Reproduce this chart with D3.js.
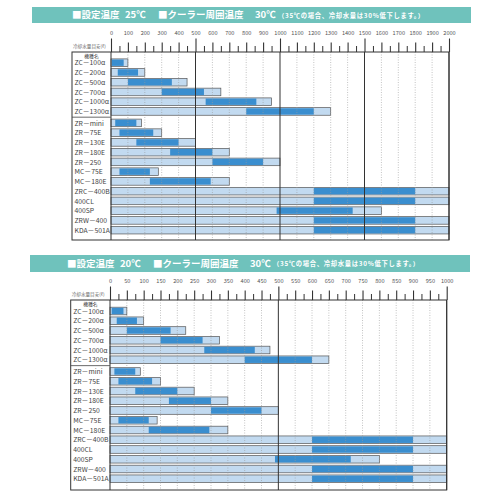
<!DOCTYPE html>
<html>
<head>
<meta charset="utf-8">
<script src="https://cdn.jsdelivr.net/npm/d3@7"></script>
<style>
  body { margin: 0; background: #fff; }
  text { font-family: "Noto Sans CJK JP", "Noto Sans", sans-serif; }
</style>
</head>
<body>
<svg width="498" height="498"></svg>
<script>
const models = ["ZC－100α", "ZC－200α", "ZC－500α", "ZC－700α", "ZC－1000α", "ZC－1300α",
                "ZR－mini", "ZR－75E", "ZR－130E", "ZR－180E", "ZR－250", "MC－75E", "MC－180E",
                "ZRC－400B", "400CL", "400SP", "ZRW－400", "KDA－501A"];

// set temp 25°C : full range and recommended range (L)
const full25 = [100, 200, 450, 650, 950, 1300, 180, 300, 500, 700, 1000, 280, 700, 2000, 2000, 1600, 2000, 2000];
const optLo25 = [5, 40, 100, 300, 560, 800, 25, 50, 150, 350, 600, 50, 230, 1200, 1200, 980, 1200, 1200];
const optHi25 = [75, 160, 360, 550, 860, 1200, 150, 250, 400, 600, 900, 230, 590, 1800, 1800, 1430, 1800, 1800];

// set temp 20°C
const full20 = [50, 100, 225, 325, 475, 650, 90, 150, 250, 350, 500, 140, 350, 1000, 1000, 800, 1000, 1000];
const optLo20 = [5, 20, 50, 150, 280, 400, 13, 25, 75, 175, 300, 25, 115, 600, 600, 490, 600, 600];
const optHi20 = [40, 80, 180, 275, 430, 600, 75, 125, 200, 300, 450, 115, 295, 900, 900, 715, 900, 900];

const ticks25 = [0, 100, 200, 300, 400, 500, 600, 700, 800, 900, 1000, 1100, 1200, 1300, 1400, 1500, 1600, 1700, 1800, 1900, 2000];
const ticks20 = [0, 50, 100, 150, 200, 250, 300, 350, 400, 450, 500, 550, 600, 650, 700, 750, 800, 850, 900, 950, 1000];

const headTemp = ["25℃", "20℃"];
const headParts = ["■設定温度", null, "■クーラー周囲温度", "30℃"];
const headNote = "（35℃の場合、冷却水量は30%低下します。）";
const axisTitle = "冷却水量目安(ℓ)";
const colTitle = "機種名";

const svg = d3.select("svg");

function panel(p) {
  const x = d3.scaleLinear().domain([0, p.max]).range([p.x0, p.x1]);
  const y = i => p.first + i * p.step + (i >= 6 ? p.gap : 0);
  const g = svg.append("g");

  // header band
  g.append("rect")
    .attr("x", p.hx).attr("y", p.hy).attr("width", p.hw).attr("height", p.hh)
    .attr("fill", "#6fc2bc");
  const hx = [0, 53, 86, 183];
  headParts.forEach((t, i) => {
    g.append("text")
      .attr("x", p.htx + hx[i]).attr("y", p.hy + p.hh / 2 + 3.4)
      .attr("fill", "#fff").attr("font-size", 9.5).attr("font-weight", "bold")
      .text(t === null ? p.temp : t);
  });
  g.append("text")
    .attr("x", p.htx + 206).attr("y", p.hy + p.hh / 2 + 2.6)
    .attr("fill", "#fff").attr("font-size", 6.3).attr("font-weight", "bold")
    .attr("textLength", 146)
    .text(headNote);

  // bars
  const rows = g.append("g");
  p.full.forEach((v, i) => {
    rows.append("rect")
      .attr("x", x(0)).attr("y", y(i) - 3.8)
      .attr("width", x(v) - x(0)).attr("height", 7.6)
      .attr("fill", "#c2daf0").attr("stroke", "#555").attr("stroke-width", 0.7);
    rows.append("rect")
      .attr("x", x(p.lo[i])).attr("y", y(i) - 3.2)
      .attr("width", x(p.hi[i]) - x(p.lo[i])).attr("height", 6.4)
      .attr("fill", "#3a8ecf");
  });

  // grid
  const half = p.ticks[1] / 2;
  g.selectAll(null).data(p.ticks.filter(t => t % 500 !== 0)).join("line")
    .attr("x1", d => x(d)).attr("x2", d => x(d))
    .attr("y1", p.base).attr("y2", p.bottom)
    .attr("stroke", "#9a9a9a").attr("stroke-width", 0.6).attr("stroke-dasharray", "1,1.5");
  g.selectAll(null).data(p.ticks.filter(t => t % 500 === 0)).join("line")
    .attr("x1", d => x(d)).attr("x2", d => x(d))
    .attr("y1", p.base).attr("y2", p.bottom)
    .attr("stroke", "#333").attr("stroke-width", 1);

  // frame
  g.append("rect")
    .attr("x", p.lx).attr("y", p.base).attr("width", p.x1 - p.lx).attr("height", p.bottom - p.base)
    .attr("fill", "none").attr("stroke", "#333").attr("stroke-width", 1);
  const sep = (y(5) + y(6)) / 2;
  g.append("line")
    .attr("x1", p.lx).attr("x2", x(0)).attr("y1", sep).attr("y2", sep)
    .attr("stroke", "#444").attr("stroke-width", 0.8);

  // axis: labelled ticks
  const ax = g.append("g")
    .attr("transform", `translate(0,${p.base})`)
    .call(d3.axisTop(x).tickValues(p.ticks).tickSize(9.5).tickPadding(8).tickFormat(d3.format("d")));
  ax.select(".domain").remove();
  ax.selectAll(".tick line").attr("stroke", "#333").attr("stroke-width", 1.1)
    .filter(d => d % 500 === 0).attr("y2", -13.5);
  ax.selectAll(".tick text").attr("font-size", 5.6).attr("fill", "#555")
    .attr("font-family", "'DejaVu Sans', sans-serif");

  // minor ticks
  const minor = g.append("g")
    .attr("transform", `translate(0,${p.base})`)
    .call(d3.axisTop(x).tickValues(p.ticks.slice(0, -1).map(t => t + half)).tickSize(6).tickFormat(""));
  minor.select(".domain").remove();
  minor.selectAll(".tick line").attr("stroke", "#333").attr("stroke-width", 1);

  // labels column
  g.append("text")
    .attr("x", p.lx + 1).attr("y", p.base - 4)
    .attr("font-size", 4.6).attr("fill", "#666")
    .text(axisTitle);
  g.append("text")
    .attr("x", (p.lx + x(0)) / 2).attr("y", p.base + 5.5)
    .attr("text-anchor", "middle").attr("font-size", 4.8).attr("fill", "#444")
    .text(colTitle);
  models.forEach((m, i) => {
    g.append("text")
      .attr("x", p.lx + 2.5).attr("y", y(i) + 2.6)
      .attr("font-size", 6.8).attr("fill", "#444")
      .text(m);
  });
}

panel({
  temp: headTemp[0], max: 2000, ticks: ticks25,
  full: full25, lo: optLo25, hi: optHi25,
  hx: 32, hy: 7, hw: 439, hh: 16, htx: 72,
  lx: 72, x0: 111, x1: 449, base: 52, bottom: 240,
  first: 62.7, step: 9.75, gap: 1.7
});

panel({
  temp: headTemp[1], max: 1000, ticks: ticks20,
  full: full20, lo: optLo20, hi: optHi20,
  hx: 30, hy: 255, hw: 440, hh: 17, htx: 67,
  lx: 70.7, x0: 110, x1: 446.7, base: 300, bottom: 490,
  first: 311, step: 9.75, gap: 2
});
</script>
</body>
</html>
